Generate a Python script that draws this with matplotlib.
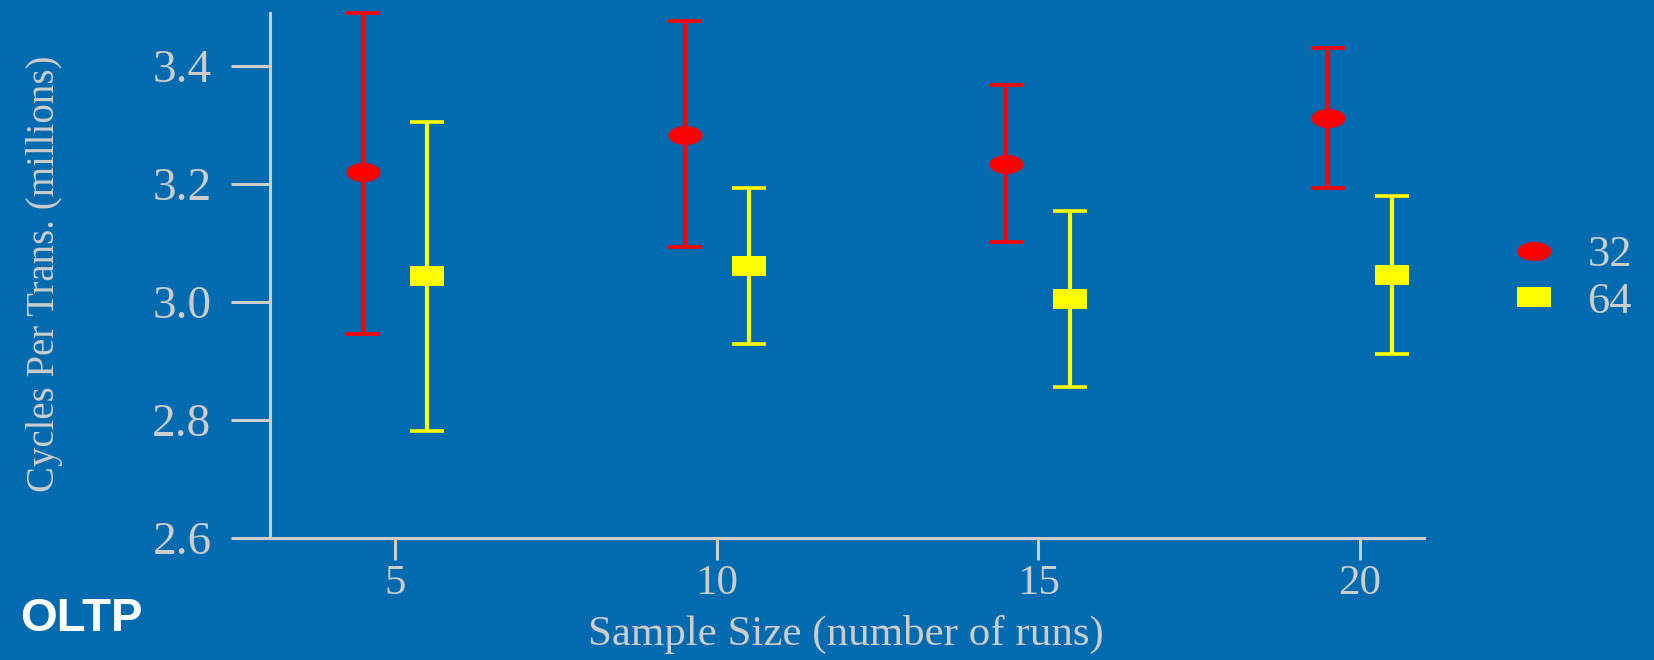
import matplotlib
matplotlib.use("Agg")
import matplotlib.pyplot as plt
import numpy as np
from matplotlib.path import Path
from matplotlib.lines import Line2D

# data
sample_size = [5, 10, 15, 20]
cpt_32 = [3.220, 3.282, 3.234, 3.312]
lo_32 = [2.946, 3.093, 3.102, 3.193]
hi_32 = [3.489, 3.475, 3.368, 3.430]
cpt_64 = [3.043, 3.061, 3.004, 3.045]
lo_64 = [2.782, 2.929, 2.855, 2.911]
hi_64 = [3.304, 3.193, 3.154, 3.179]
series_labels = ["32", "64"]
yticks = [2.6, 2.8, 3.0, 3.2, 3.4]

bg = "#026AAE"
fg = "#CCCCCC"

# stretched markers like the original: an ellipse and a rounded box
t = np.linspace(0, 2 * np.pi, 60)
ellipse = Path(np.column_stack([np.cos(t), 0.56 * np.sin(t)]))
box = Path([(-1, -0.58), (1, -0.58), (1, 0.58), (-1, 0.58), (-1, -0.58)],
           [Path.MOVETO, Path.LINETO, Path.LINETO, Path.LINETO, Path.CLOSEPOLY])

fig = plt.figure(figsize=(16.54, 6.6), dpi=100, facecolor=bg)
ax = fig.add_axes([0.1632, 0.1848, 0.6978, 0.7962], facecolor=bg)

x = np.array(sample_size, dtype=float)
styles = [("#FF0000", ellipse, -0.5, cpt_32, lo_32, hi_32),
          ("#FFFF00", box, 0.5, cpt_64, lo_64, hi_64)]
for color, mk, off, mid, lo, hi in styles:
    mid = np.array(mid)
    err = [mid - np.array(lo), np.array(hi) - mid]
    ax.errorbar(x + off, mid, yerr=err, fmt="none", ecolor=color,
                elinewidth=3, capsize=12.2, capthick=2.6, clip_on=False)
    ax.plot(x + off, mid, linestyle="none", marker=mk, markersize=24.5,
            color=color, markeredgewidth=0, clip_on=False, zorder=5)

ax.set_xlim(3.05, 21.0)
ax.set_ylim(2.6, 3.49)
ax.set_xticks(sample_size)
ax.set_yticks(yticks)
ax.set_yticklabels(["%.1f" % v for v in yticks])

for side in ["top", "right"]:
    ax.spines[side].set_visible(False)
for side in ["left", "bottom"]:
    ax.spines[side].set_color(fg)
    ax.spines[side].set_linewidth(2.2)

serif = "Liberation Serif"
ax.tick_params(axis="y", length=28, width=2.2, color=fg, pad=14,
               labelcolor=fg, labelsize=34)
ax.tick_params(axis="x", length=16, width=2.2, color=fg, pad=3,
               labelcolor=fg, labelsize=31)
for lab in ax.get_xticklabels() + ax.get_yticklabels():
    lab.set_family(serif)

ax.set_xlabel("Sample Size (number of runs)", fontsize=31, color=fg,
              family=serif, va="center")
ax.xaxis.set_label_coords(0.499, -0.184)
ax.set_ylabel("Cycles Per Trans. (millions)", fontsize=28, color=fg,
              family=serif, va="center")
ax.yaxis.set_label_coords(-0.195, 0.503)

handles = [Line2D([], [], linestyle="none", marker=ellipse, markersize=24.5,
                  color="#FF0000", markeredgewidth=0),
           Line2D([], [], linestyle="none", marker=box, markersize=24.5,
                  color="#FFFF00", markeredgewidth=0)]
leg = fig.legend(handles, series_labels, loc="center left",
                 bbox_to_anchor=(0.898, 0.578), frameon=False,
                 prop={"family": serif, "size": 32}, handlelength=1.2,
                 handletextpad=0.6, labelspacing=0.15, borderpad=0)
for txt in leg.get_texts():
    txt.set_color(fg)

fig.text(0.049, 0.062, "OLTP", fontsize=34, fontweight="bold",
         color="white", family="Liberation Sans", ha="center", va="center")

fig.savefig("out.png", dpi=100, facecolor=bg)
